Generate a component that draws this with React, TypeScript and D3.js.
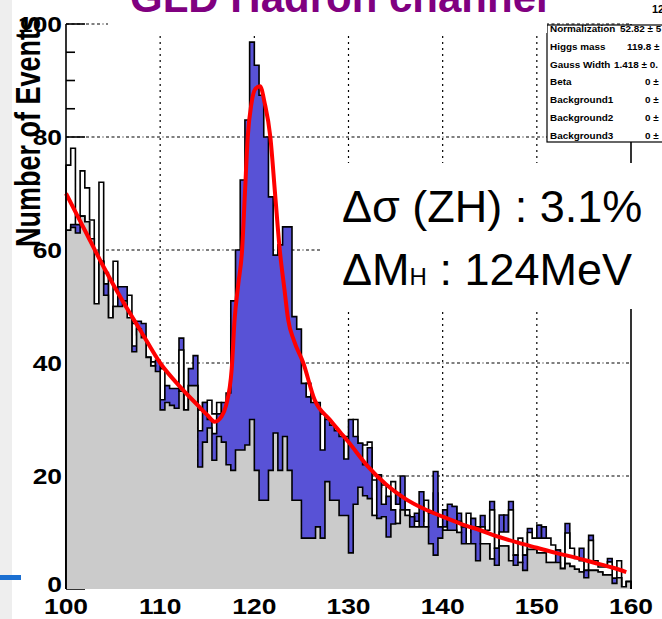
import React from 'react';
import * as d3 from 'd3';

const W = 662, H = 619;
const X_MIN = 100, X_MAX = 160, BIN_W = 0.5;

// background (gray) histogram
const grayVals = [
  63.5, 64, 63, 66, 65, 62, 50.5, 58, 52, 48,
  50, 50, 51, 48, 42, 46, 44.5, 41, 39.5, 38.5,
  31.7, 33, 32.5, 32, 35, 31.7, 36, 36, 21.6, 26,
  28.5, 22.8, 27, 26, 22, 21, 24.6, 24.6, 25.5, 30,
  21, 15.7, 15.7, 21, 27.6, 21, 27, 21, 15.7, 15.7,
  9, 9, 9, 11, 9, 19, 15.7, 15.7, 13, 13,
  6.4, 15, 18, 16.5, 16, 13, 12.5, 12.8, 9.2, 11.5,
  11.6, 14, 13, 11, 11, 11, 11, 8, 6, 9,
  10.4, 10.4, 10.4, 10, 8, 8, 8, 5, 8, 8,
  5.3, 4.2, 7.6, 7.6, 5, 4.2, 4.7, 3.3, 7, 7,
  6.4, 6.4, 4.7, 4.7, 4.7, 3.6, 4.5, 4, 3.5, 3,
  2, 3.3, 3.3, 3, 2.5, 2.5, 1, 2, 0.4, 1.3,
];
// blue histogram drawn just above the gray one
const lowBlueVals = [
  63.5, 64.5, 64.5, 66, 65, 62, 50.5, 58, 54, 48,
  50, 53.5, 53.5, 48, 43, 47.4, 47, 41, 39.5, 40.5,
  33.5, 36, 35.5, 35.5, 35, 31.7, 39, 41.3, 28, 33,
  30, 27.5, 31, 33, 34.7, 51, 60, 72.4, 83, 96.8,
  92.7, 87.4, 80, 69.4, 59.1, 60.9, 64.1, 64.1, 48.2, 46,
  36.4, 34, 33, 33, 24.6, 30, 29, 28, 27, 23,
  30, 27, 25.8, 22, 25, 13, 20.2, 15, 16.4, 14,
  11.6, 20, 13, 12.8, 11, 17.2, 11, 13.4, 20.8, 11,
  10.4, 15, 14.6, 10, 11, 8, 12.5, 11, 8, 8,
  5.3, 7.2, 7.6, 7.6, 5, 6, 4.7, 6, 7, 7,
  6.4, 6.4, 4.7, 4.7, 6.9, 3.6, 4.5, 4, 3.5, 3,
  3.3, 3.3, 3.3, 3, 2.5, 2.5, 1.9, 2, 0.4, 1.3,
];
// white (open) histogram
const whiteVals = [
  75, 78, 63, 74, 71, 65.3, 50.5, 72, 56, 48,
  58, 52, 52, 52, 47, 45, 44, 41, 40.2, 38,
  39, 33, 32, 32, 42.3, 31.7, 36, 36, 31.7, 33,
  33.4, 31, 33, 30, 30, 21, 24.6, 24.6, 25.5, 30,
  21, 15.7, 15.7, 21, 27.6, 21, 27, 21, 15.7, 15.7,
  9, 36.4, 9, 11, 31, 19, 15.7, 15.7, 13, 27,
  6.4, 30, 25.8, 25.5, 26, 19.3, 18, 18.4, 14, 19,
  15, 16, 14, 12.8, 12, 12, 15.7, 13.4, 17, 9,
  11, 12, 14.6, 12, 11, 13.4, 10, 8, 11, 10.4,
  14, 7.2, 10.1, 10.1, 14, 6, 9, 6, 10, 9,
  9, 9, 9, 7.8, 6.9, 3.6, 9.9, 7.2, 5.4, 5,
  3.3, 8.6, 5, 3.9, 3.9, 4.8, 1.9, 5, 0.4, 1.3,
];
// blue caps above the white histogram
const topBlueVals = [
  0, 0, 0, 0, 0, 0, 0, 0, 0, 0,
  0, 0, 0, 0, 0, 0, 0, 0, 0, 0,
  0, 0, 0, 0, 44.4, 0, 0, 0, 0, 0,
  0, 0, 0, 0, 0, 0, 0, 0, 0, 0,
  0, 0, 0, 0, 0, 0, 0, 0, 0, 0,
  0, 0, 0, 0, 0, 0, 0, 0, 0, 0,
  0, 0, 0, 0, 0, 0, 0, 0, 0, 0,
  17, 0, 0, 0, 13.4, 0, 0, 0, 0, 0,
  14, 0, 0, 13.4, 0, 0, 0, 0, 13, 0,
  15.5, 0, 13.1, 13.1, 15.5, 0, 0, 0, 10.7, 0,
  11.3, 11, 0, 0, 0, 0, 11.6, 0, 0, 7.2,
  0, 9.5, 0, 0, 0, 5.4, 0, 0, 0, 0,
];

// fitted curve
const fitX = [100, 102, 104, 106, 108, 110, 112, 114, 115, 115.8, 116.5, 117, 117.6, 117.9, 118.3, 118.7, 119, 119.3, 119.7, 120.1, 120.6, 121.1, 121.7, 122.2, 122.7, 123.2, 123.6, 124.2, 125.2, 126.4, 128, 129.1, 130, 132, 134, 136, 138, 140, 142, 144, 146, 148, 150, 152, 154, 156, 158, 159.5];
const fitY = [70, 63.5, 57, 51, 45.5, 40, 36, 32.5, 30.8, 29.6, 30.5, 32.5, 39, 47.6, 54, 60, 70, 80, 86, 88.5, 89, 86, 80, 70, 60, 53, 47.6, 44, 40, 33.5, 30, 27.8, 26, 21.8, 18.5, 16, 14.2, 12.8, 11.5, 10.4, 9.2, 8.2, 7.3, 6.4, 5.6, 4.7, 3.8, 3];

const xTicks = [100, 110, 120, 130, 140, 150, 160];
const yTicks = [0, 20, 40, 60, 80, 100];
const yMinorTicks = d3.range(0, 101, 5);
const xGrid = [110, 120, 130, 140, 150];
const yGrid = [20, 40, 60, 80, 100];

const statNames = ['Normalization', 'Higgs mass', 'Gauss Width', 'Beta', 'Background1', 'Background2', 'Background3'];
const statValues = ['52.82 \u00b1 5', '119.8 \u00b1', '1.418 \u00b1 0.', '0 \u00b1', '0 \u00b1', '0 \u00b1', '0 \u00b1'];

const x = d3.scaleLinear().domain([X_MIN, X_MAX]).range([66, 631]);
const y = d3.scaleLinear().domain([0, 100]).range([589, 24]);

const FONT = '"Liberation Sans", Arial, Helvetica, sans-serif';
const BLUE = '#5852d6';
const GRAY = '#cbcbcb';

function stepPath(vals: number[], close: boolean) {
  let p = `M${x(X_MIN)},${y(0)}`;
  vals.forEach((v, i) => {
    p += `V${y(v)}H${x(X_MIN + (i + 1) * BIN_W)}`;
  });
  p += `V${y(0)}`;
  return close ? p + 'Z' : p;
}

function Hist({ vals, fill }: { vals: number[]; fill: string }) {
  return (
    <g>
      <path d={stepPath(vals, true)} fill={fill} stroke="none" />
      <path d={stepPath(vals, false)} fill="none" stroke="#000" strokeWidth={1.6} />
    </g>
  );
}

export default function App() {
  const fitLine = d3
    .line<number>()
    .x((_, i) => x(fitX[i]))
    .y((d) => y(d))
    .curve(d3.curveMonotoneX)(fitY) as string;

  const valueX = [620, 627, 614, 645, 645, 645, 645];

  return (
    <svg width={W} height={H} style={{ position: 'absolute', left: 0, top: 0, background: '#fff' }} fontFamily={FONT}>
      <rect x={0} y={0} width={W} height={H} fill="#fff" />
      {/* grid */}
      {xGrid.map((v) => (
        <line key={'gx' + v} x1={x(v)} x2={x(v)} y1={y(100)} y2={y(0)} stroke="#000" strokeWidth={1.2} strokeDasharray="2,4" />
      ))}
      {yGrid.map((v) => (
        <line key={'gy' + v} x1={x(X_MIN)} x2={x(X_MAX)} y1={y(v)} y2={y(v)} stroke="#000" strokeWidth={1.2} strokeDasharray="3,2.5,3,2.5,3,2.5,1,2.5" />
      ))}
      {/* ticks */}
      {yMinorTicks.map((v) => (
        <line key={'yt' + v} x1={x(X_MIN)} x2={x(X_MIN) + (v % 20 === 0 ? 19 : 9)} y1={y(v)} y2={y(v)} stroke="#000" strokeWidth={1.6} />
      ))}
      {/* histograms */}
      {topBlueVals.map((v, i) =>
        v > 0 ? (
          <path
            key={'tb' + i}
            d={`M${x(X_MIN + i * BIN_W)},${y(0)}V${y(v)}H${x(X_MIN + (i + 1) * BIN_W)}V${y(0)}`}
            fill={BLUE}
            stroke="#000"
            strokeWidth={1.6}
          />
        ) : null
      )}
      <Hist vals={whiteVals} fill="#fff" />
      <Hist vals={lowBlueVals} fill={BLUE} />
      <Hist vals={grayVals} fill={GRAY} />
      {/* fit */}
      <path d={fitLine} fill="none" stroke="#ff0000" strokeWidth={4} strokeLinejoin="round" />
      {/* frame */}
      <line x1={x(X_MIN)} x2={x(X_MIN)} y1={y(100)} y2={y(0)} stroke="#000" strokeWidth={1.6} />
      <line x1={x(X_MAX)} x2={x(X_MAX)} y1={y(100)} y2={y(0)} stroke="#000" strokeWidth={1.6} />
      {/* annotation */}
      <rect x={320} y={163} width={W - 320} height={146} fill="#fff" />
      <text x={342} y={222} fontSize={45} fill="#000">{'\u0394\u03c3 (ZH) : 3.1%'}</text>
      <text x={342} y={285} fontSize={45} fill="#000">
        {'\u0394M'}
        <tspan fontSize={24}>H</tspan>
        {' : 124MeV'}
      </text>
      {/* stats box */}
      <rect x={547} y={25} width={130} height={117} fill="#fff" stroke="#000" strokeWidth={1.2} />
      {statNames.map((n, i) => (
        <g key={'st' + i}>
          <text transform={`translate(550,${32 + i * 17.8}) scale(1.1,1)`} fontSize={9} fontWeight="bold" fill="#000">{n}</text>
          <text transform={`translate(${valueX[i]},${32 + i * 17.8}) scale(1.1,1)`} fontSize={9} fontWeight="bold" fill="#000">{statValues[i]}</text>
        </g>
      ))}
      {/* title */}
      <rect x={108} y={0} width={439} height={33} fill="#fff" />
      <text x={130} y={12} fontSize={42} fontWeight="bold" fill="#800080">GLD Hadron channel</text>
      <text transform="translate(652,13) scale(1.1,1)" fontSize={10} fontWeight="bold" fill="#000">12</text>
      {/* axis labels */}
      {yTicks.map((v) => (
        <text key={'yl' + v} transform={`translate(62,${v === 0 ? y(v) + 3 : y(v) + 8}) scale(1.2,1)`} textAnchor="end" fontSize={22} fontWeight="bold" fill="#000">{v}</text>
      ))}
      {xTicks.map((v) => (
        <text key={'xl' + v} transform={`translate(${x(v)},614) scale(1.2,1)`} textAnchor="middle" fontSize={22} fontWeight="bold" fill="#000">{v}</text>
      ))}
      <text transform="translate(40,16) scale(1.3,1) rotate(-90)" textAnchor="end" fontSize={27} fontWeight="bold" fill="#000">Number of Events</text>
      {/* slide decoration at left */}
      <rect x={0} y={0} width={12} height={H} fill="#eeeeee" />
      <rect x={0} y={575} width={21} height={5} fill="#1b6fd1" />
    </svg>
  );
}
